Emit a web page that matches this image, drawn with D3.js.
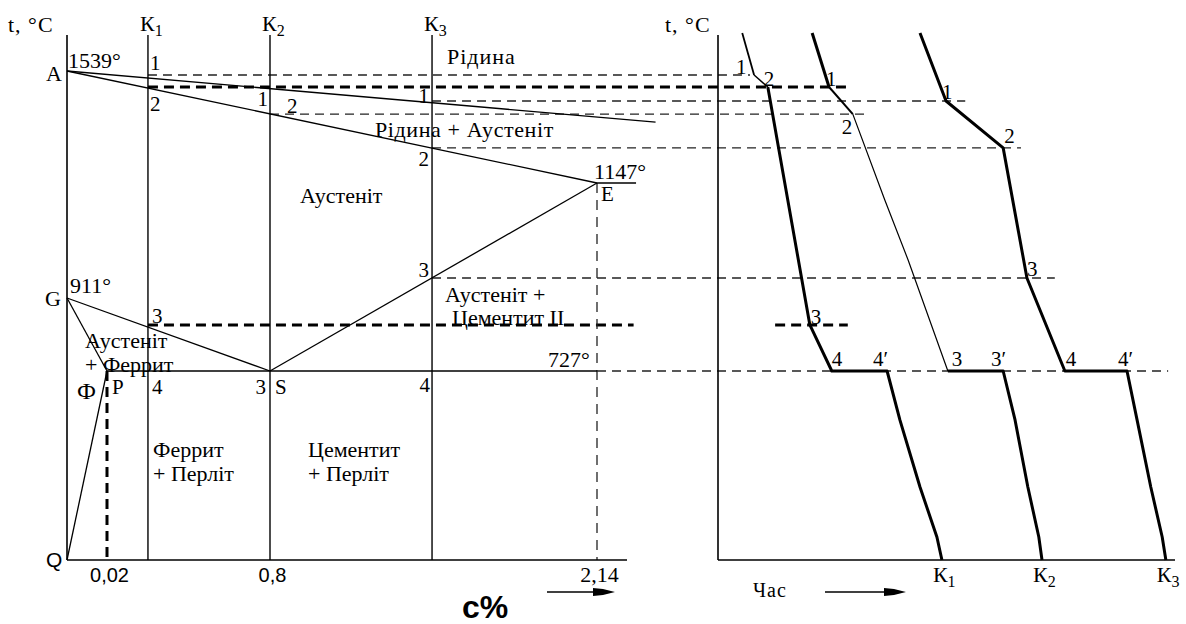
<!DOCTYPE html>
<html>
<head>
<meta charset="utf-8">
<script src="https://cdn.jsdelivr.net/npm/d3@7"></script>
<style>
  html, body { margin: 0; padding: 0; background: #fff; }
  svg { display: block; }
</style>
</head>
<body>
<svg id="chart" width="1186" height="624"></svg>
<script>
// ---- Fe–Fe3C diagram (steel part), carbon % vs temperature °C ----
const keyCarbon = [0, 0.02, 0.8, 2.14];
const keyTemps  = [20, 727, 911, 1147, 1539];
const carbonTicks  = [0.02, 0.8, 2.14];
const carbonLabels = ["0,02", "0,8", "2,14"];

// phase boundaries as [carbon %, temperature]
const liquidusLine  = [[0, 1539], [2.38, 1360]];
const solidusLine   = [[0, 1539], [2.14, 1147]];
const lineGS        = [[0, 911], [0.8, 727]];
const lineGP        = [[0, 911], [0.02, 727]];
const linePQ        = [[0.02, 727], [0, 20]];
const lineSE        = [[0.8, 727], [2.14, 1147]];
const eutectoidLine = [[0.02, 727], [2.14, 727]];
const eutecticStub  = [[2.14, 1147], [2.30, 1147]];

// alloys studied
const alloyNames  = ["К", "К", "К"];
const alloySubs   = ["1", "2", "3"];
const alloyCarbon = [0.216, 0.8, 1.464];

// critical-point guide lines: temperature, start carbon, end time, heavy?
const guideTemps  = [1525, 1483, 1434, 1388, 1270, 952, 727];
const guideStartC = [0.216, 0.216, 1.464, 0.8, 1.464, 1.464, 2.14];
const guideEndT   = [7.0, 29.3, 54.1, 32.2, 66.3, 73.7, 98.5];
const guideHeavy  = [false, true, false, false, false, false, false];
// heavy line at the K1 ferrite start: left part in carbon, right part in time
const ferriteTemp  = 843;
const ferriteLeftC = [0.216, 2.29];
const ferriteRightT = [12.5, 28.4];

// cooling curves: [time, temperature]
const coolK1 = [[5.3,1672],[7.9,1525],[10.9,1483],[20.1,843],[24.9,727],[37.0,727],[39.8,544],[44.2,293],[47.9,106],[49.0,20]];
const coolK2 = [[20.6,1672],[24.3,1483],[29.5,1388],[36.5,1112],[41.6,989],[50.3,727],[62.4,727],[65.0,544],[67.8,293],[70.2,106],[70.9,20]];
const coolK3 = [[44.2,1672],[49.9,1434],[62.4,1270],[67.6,952],[75.9,727],[89.5,727],[91.7,544],[94.7,293],[97.2,106],[98.0,20]];
const widthK1 = [1.8, 1.5, 3, 3, 3, 3, 3, 3, 3];
const widthK2 = [3, 2, 1.2, 1.2, 1.2, 3, 3, 3, 3, 3];
const widthK3 = [3, 3, 3, 3, 3, 3, 3, 3, 3];
// point labels on cooling curves: [curve index, point index, text, dx, dy, anchor]
const curveLabels = [
  [0, 1, "1", -18, -1, "start"], [0, 2, "2", -4, -1, "start"], [0, 3, "3", 1, -1, "start"],
  [0, 4, "4", 0, -5, "start"], [0, 5, "4\u2032", 1, -5, "end"],
  [1, 1, "1", -3, -1, "start"], [1, 2, "2", -11, 20, "start"], [1, 5, "3", 4, -5, "start"],
  [1, 6, "3\u2032", 3, -5, "end"],
  [2, 1, "1", -4, -2, "start"], [2, 2, "2", 1, -5, "start"], [2, 3, "3", 0, -2, "start"],
  [2, 4, "4", 1, -5, "start"], [2, 5, "4\u2032", 6, -5, "end"]
];

const tMin = 20, tTop = 1665, cAxisEnd = 2.263;

const SERIF = "'Liberation Serif', 'DejaVu Serif', 'Times New Roman', serif";
const SANS = "'Liberation Sans', Arial, sans-serif";

const svg = d3.select("#chart");

// piecewise scales (the diagram is schematic, not to a uniform scale)
const cScale = d3.scaleLinear().domain(keyCarbon).range([67, 107, 270, 597]);
const tScale = d3.scaleLinear().domain(keyTemps).range([560, 371, 298, 183, 71]);
const timeScale = d3.scaleLinear().domain([0, 100]).range([718, 1175]);

const phaseLine = d3.line().x(d => cScale(d[0])).y(d => tScale(d[1]));
const coolLine = d3.line().x(d => timeScale(d[0])).y(d => tScale(d[1]));

const ink = "#000";
const dashInk = "#222";

function label(x, y, txt, size, opts = {}) {
  return svg.append("text")
    .attr("x", x).attr("y", y)
    .attr("text-anchor", opts.anchor || "start")
    .attr("fill", "#000")
    .style("font-family", opts.family || SERIF)
    .style("font-size", size + "px")
    .style("font-weight", opts.weight || "normal")
    .style("letter-spacing", (opts.spacing || 0) + "px")
    .text(txt);
}

// ---- guide dashed lines (drawn first, under everything) ----
const g = svg.append("g");
guideTemps.forEach((t, i) => {
  g.append("line")
    .attr("x1", cScale(guideStartC[i])).attr("x2", timeScale(guideEndT[i]))
    .attr("y1", tScale(t)).attr("y2", tScale(t))
    .attr("stroke", guideHeavy[i] ? ink : dashInk)
    .attr("stroke-width", guideHeavy[i] ? 3 : 1.3)
    .attr("stroke-dasharray", guideHeavy[i] ? "10,6" : "9,6");
});
g.append("line")
  .attr("x1", cScale(ferriteLeftC[0])).attr("x2", cScale(ferriteLeftC[1]))
  .attr("y1", tScale(ferriteTemp)).attr("y2", tScale(ferriteTemp))
  .attr("stroke", ink).attr("stroke-width", 3).attr("stroke-dasharray", "10,6");
g.append("line")
  .attr("x1", timeScale(ferriteRightT[0])).attr("x2", timeScale(ferriteRightT[1]))
  .attr("y1", tScale(ferriteTemp)).attr("y2", tScale(ferriteTemp))
  .attr("stroke", ink).attr("stroke-width", 3).attr("stroke-dasharray", "10,6");
// vertical drop lines at E and P
g.append("line")
  .attr("x1", cScale(2.14)).attr("x2", cScale(2.14))
  .attr("y1", tScale(1147)).attr("y2", tScale(tMin))
  .attr("stroke", dashInk).attr("stroke-width", 1.3).attr("stroke-dasharray", "10,7");
g.append("line")
  .attr("x1", cScale(0.02)).attr("x2", cScale(0.02))
  .attr("y1", tScale(727)).attr("y2", tScale(tMin))
  .attr("stroke", ink).attr("stroke-width", 3).attr("stroke-dasharray", "10,6");

// ---- axes ----
const axes = svg.append("g").attr("stroke", ink).attr("stroke-width", 1.6);
axes.append("line").attr("x1", cScale(0)).attr("x2", cScale(0)).attr("y1", tScale(tTop)).attr("y2", tScale(tMin));
axes.append("line").attr("x1", cScale(0)).attr("x2", cScale(cAxisEnd)).attr("y1", tScale(tMin)).attr("y2", tScale(tMin));
axes.append("line").attr("x1", timeScale(0)).attr("x2", timeScale(0)).attr("y1", tScale(tTop)).attr("y2", tScale(tMin));
axes.append("line").attr("x1", timeScale(0)).attr("x2", timeScale(100)).attr("y1", tScale(tMin)).attr("y2", tScale(tMin));

// carbon tick labels
const xAxis = d3.axisBottom(cScale).tickValues(carbonTicks).tickSize(0).tickPadding(0)
  .tickFormat((d, i) => carbonLabels[i]);
const xAxisG = svg.append("g").attr("transform", `translate(0,${tScale(tMin)})`).call(xAxis);
xAxisG.select(".domain").remove();
xAxisG.selectAll("text")
  .attr("dy", 0).attr("y", 22).attr("dx", 2)
  .attr("fill", "#000")
  .style("font-family", (d, i) => i < 2 ? SANS : SERIF)
  .style("font-size", (d, i) => i < 2 ? "20px" : "22px");

// ---- alloy verticals ----
alloyCarbon.forEach((c, i) => {
  svg.append("line")
    .attr("x1", cScale(c)).attr("x2", cScale(c))
    .attr("y1", tScale(tTop)).attr("y2", tScale(tMin))
    .attr("stroke", ink).attr("stroke-width", 1.4);
  const t = label(cScale(c) - 8, 31, null, 22);
  t.append("tspan").text(alloyNames[i]);
  t.append("tspan").attr("dy", 5).style("font-size", "16px").text(alloySubs[i]);
});

// ---- phase boundaries ----
[liquidusLine, solidusLine, lineGS, lineGP, linePQ, lineSE, eutectoidLine, eutecticStub].forEach(pts => {
  svg.append("path").attr("d", phaseLine(pts))
    .attr("fill", "none").attr("stroke", ink).attr("stroke-width", 1.3);
});

// ---- cooling curves ----
const curves = [coolK1, coolK2, coolK3];
const widths = [widthK1, widthK2, widthK3];
curves.forEach((pts, ci) => {
  // consecutive segments of equal width share one path
  const w = widths[ci];
  let start = 0;
  for (let s = 1; s <= w.length; s++) {
    if (s === w.length || w[s] !== w[start]) {
      svg.append("path").attr("d", coolLine(pts.slice(start, s + 1)))
        .attr("fill", "none").attr("stroke", ink)
        .attr("stroke-width", w[start]).attr("stroke-linejoin", "round");
      start = s;
    }
  }
  const end = pts[pts.length - 1];
  const lab = label(timeScale(end[0]) - 9, tScale(tMin) + 22, null, 22);
  lab.append("tspan").text(alloyNames[ci]);
  lab.append("tspan").attr("dy", 5).style("font-size", "16px").text(alloySubs[ci]);
});
curveLabels.forEach(([ci, pi, txt, dx, dy, anchor]) => {
  const p = curves[ci][pi];
  label(timeScale(p[0]) + dx, tScale(p[1]) + dy, txt, 21, { anchor });
});

// ---- point numbers on the alloy verticals ----
const K1 = cScale(alloyCarbon[0]), K2 = cScale(alloyCarbon[1]), K3 = cScale(alloyCarbon[2]);
const pointNums = [
  ["1", K1 + 2, 70, "start"], ["2", K1 + 2, 111, "start"], ["3", K1 + 4, 323, "start"], ["4", K1 + 4, 394, "start"],
  ["1", K2 - 2, 106, "end"], ["2", K2 + 17, 113, "start"], ["3", K2 - 4, 394, "end"], ["S", K2 + 5, 394, "start"],
  ["1", K3 - 3, 103, "end"], ["2", K3 - 3, 166, "end"], ["3", K3 - 3, 277, "end"], ["4", K3 - 2, 392, "end"]
];
pointNums.forEach(([t, x, y, a]) => label(x, y, t, 21, { anchor: a }));

// ---- region and point labels ----
const regionLabels = [
  ["Рідина", 447, 64, 22, 1],
  ["Рідина + Аустеніт", 375, 137, 22, 0.6],
  ["1147°", 594, 179, 22, 0],
  ["E", 601, 201, 21, 0],
  ["Аустеніт", 300, 203, 22, 0],
  ["Аустеніт +", 445, 302, 22, 0],
  ["Цементит II", 452, 325, 22, 0],
  ["727°", 548, 367, 22, 0],
  ["1539°", 68, 68, 22, 0],
  ["A", 46, 81, 22, 0],
  ["911°", 70, 293, 22, 0],
  ["G", 45, 306, 22, 0],
  ["Аустеніт", 85, 348, 22, 0],
  ["+ Феррит", 85, 372, 22, 0],
  ["Ф", 77, 399, 24, 0],
  ["P", 112, 394, 21, 0],
  ["Феррит", 153, 457, 22, 0],
  ["+ Перліт", 153, 481, 22, 0],
  ["Цементит", 308, 457, 22, 0],
  ["+ Перліт", 308, 481, 22, 0],
  ["Час", 753, 597, 20, 1]
];
regionLabels.forEach(([t, x, y, s, ls]) => label(x, y, t, s, { spacing: ls }));
label(46, 567, "Q", 21, { family: SANS });
label(462, 618, "c%", 32, { family: SANS, weight: "bold" });

// temperature axis titles
[8, 665].forEach(x => label(x, 32, "t, °C", 22, { family: SERIF, spacing: 1 }));

// direction arrows
function arrow(x1, x2, y) {
  svg.append("line").attr("x1", x1).attr("x2", x2 - 12).attr("y1", y).attr("y2", y)
    .attr("stroke", ink).attr("stroke-width", 1.6);
  svg.append("path")
    .attr("d", `M${x2 - 22},${y - 4} L${x2 - 12},${y - 3} L${x2},${y} L${x2 - 12},${y + 3} L${x2 - 22},${y + 4} Z`)
    .attr("fill", ink);
}
arrow(547, 615, 592);
arrow(825, 906, 592);
</script>
</body>
</html>
